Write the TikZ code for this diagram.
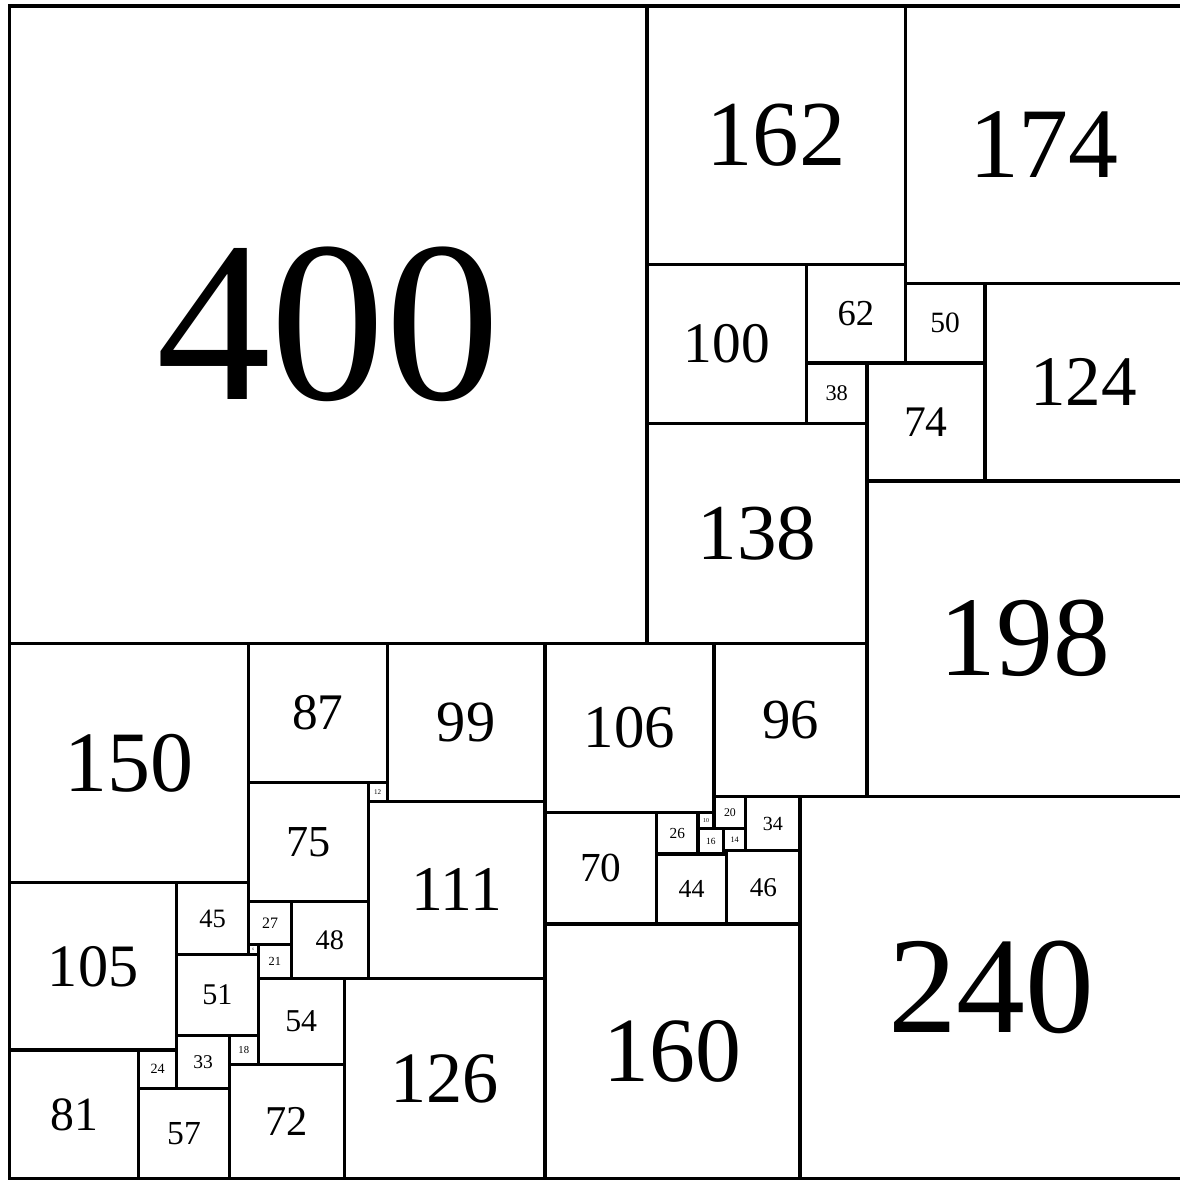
\documentclass[tikz,border=0pt]{standalone}
\usepackage{fontspec}
\setmainfont{Liberation Serif}
\usepackage{tikz}

\begin{document}
\begin{tikzpicture}[x=1pt, y=-1pt,
  sq/.style={rectangle, draw=black, line width=2pt, inner sep=0pt, outer sep=0pt}]

  \useasboundingbox[fill=white] (-5.96,-3.76) rectangle (734.3,736.6);

  % squares: left / top / side
  \foreach \qx/\qy/\qs in {0/0/400, 400/0/162, 562/0/174, 400/162/100, 500/162/62,
      500/224/38, 562/174/50, 612/174/124, 538/224/74, 400/262/138, 538/298/198,
      0/400/150, 150/400/87, 237/400/99, 336/400/106, 442/400/96, 225/487/12,
      150/487/75, 225/499/111, 336/506/70, 406/506/26, 432/506/10, 432/516/16,
      442/496/20, 448/516/14, 462/496/34, 448/530/2, 406/532/44, 450/530/46,
      496/496/240, 0/550/105, 105/550/45, 150/562/27, 177/562/48, 150/589/6,
      156/589/21, 105/595/51, 156/610/54, 210/610/126, 336/576/160, 0/655/81,
      81/655/24, 105/646/33, 138/646/18, 81/679/57, 138/664/72}{
    \pgfmathsetmacro\fs{\qs>99 ? 0.36*\qs : 0.37*\qs}
    \node[sq, minimum size=\qs pt, font=\fontsize{\fs pt}{\fs pt}\selectfont]
      (q\qs) at (\qx+\qs/2, \qy+\qs/2) {\qs};
  }

\end{tikzpicture}
\end{document}
